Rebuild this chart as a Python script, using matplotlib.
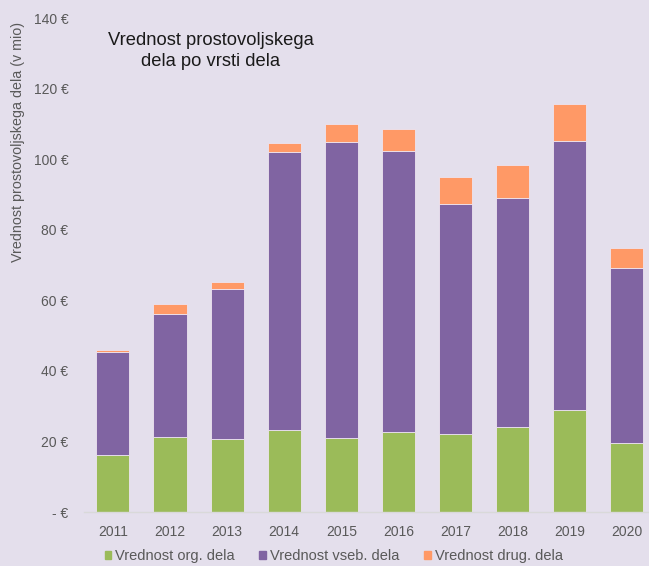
import matplotlib
matplotlib.use("Agg")
import matplotlib.pyplot as plt
import numpy as np
from matplotlib.patches import Patch

plt.rcParams['font.family'] = ['Liberation Sans', 'DejaVu Sans']

years = ["2011", "2012", "2013", "2014", "2015", "2016", "2017", "2018", "2019", "2020"]
org = [16.2, 21.3, 20.7, 23.2, 21.0, 22.7, 22.0, 24.2, 29.0, 19.7]
vseb = [29.1, 34.8, 42.5, 78.8, 84.0, 79.7, 65.3, 64.8, 76.3, 49.6]
drug = [0.7, 2.8, 2.0, 2.7, 5.1, 6.1, 7.6, 9.5, 10.5, 5.5]
series_names = ["Vrednost org. dela", "Vrednost vseb. dela", "Vrednost drug. dela"]
yticks = [0, 20, 40, 60, 80, 100, 120, 140]
ytick_labels = ["- €", "20 €", "40 €", "60 €", "80 €", "100 €", "120 €", "140 €"]

bg = "#E4DFEC"
colors = ["#9BBB59", "#8064A2", "#FF9966"]
edge = "#EDE4F0"
txt = "#595959"

fig = plt.figure(figsize=(6.49, 5.66), dpi=100, facecolor=bg)
ax = fig.add_axes([0.130, 0.0954, 0.870, 0.8723], facecolor=bg)

x = np.arange(len(years))
w = 0.58
org_a = np.array(org)
vseb_a = np.array(vseb)
drug_a = np.array(drug)
ax.bar(x, org_a, w, color=colors[0], edgecolor=edge, linewidth=0.6)
ax.bar(x, vseb_a, w, bottom=org_a, color=colors[1], edgecolor=edge, linewidth=0.6)
ax.bar(x, drug_a, w, bottom=org_a + vseb_a, color=colors[2], edgecolor=edge, linewidth=0.6)

ax.set_xlim(-0.5, 9.39)
ax.set_ylim(0, 140)
ax.set_yticks(yticks)
ax.set_yticklabels(ytick_labels)
ax.set_xticks(x)
ax.set_xticklabels(years)
ax.tick_params(axis='both', length=0, colors=txt, labelsize=10)
ax.tick_params(axis='y', pad=11.5)
ax.tick_params(axis='x', pad=9)
for s in ["top", "right", "left"]:
    ax.spines[s].set_visible(False)
ax.spines["bottom"].set_color("#D9D9D9")
ax.spines["bottom"].set_linewidth(1.0)

ax.set_ylabel("Vrednost prostovoljskega dela (v mio)", color=txt, fontsize=10.3)
ax.yaxis.set_label_coords(-0.105, 0.75)

fig.text(0.3245, 0.910, "Vrednost prostovoljskega\ndela po vrsti dela", ha='center', va='center',
         fontsize=13.2, color="#1a1a1a", linespacing=1.3)

handles = [Patch(color=c) for c in colors]
leg = fig.legend(handles, series_names, loc='center', bbox_to_anchor=(0.514, 0.018), ncol=3,
                 frameon=False, fontsize=10.5, handlelength=0.45, handleheight=0.45,
                 handletextpad=0.27, columnspacing=1.7, labelcolor=txt)

fig.savefig("out.png", dpi=100, facecolor=bg)
